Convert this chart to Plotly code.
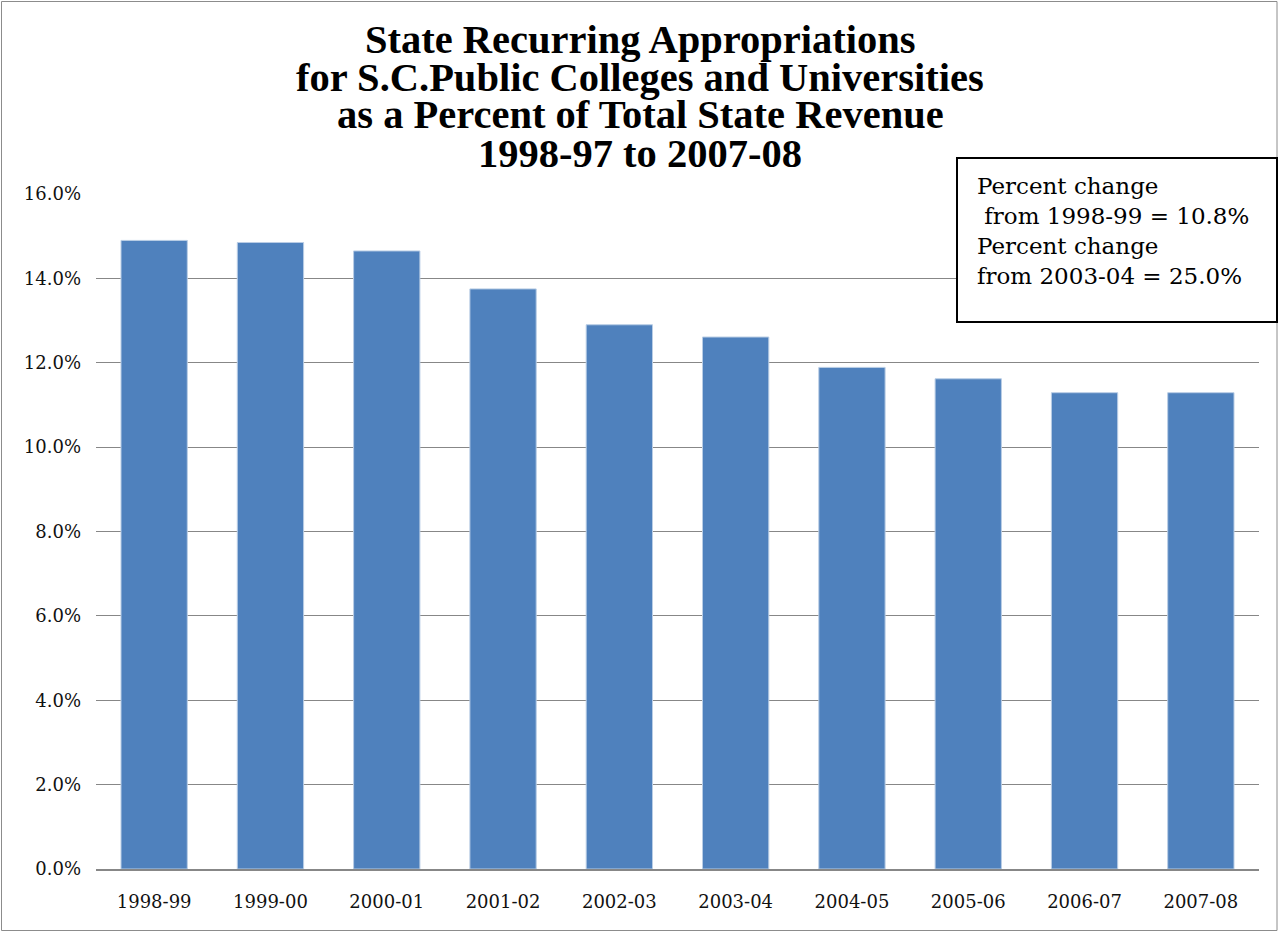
import plotly.graph_objects as go

# data
years = ['1998-99', '1999-00', '2000-01', '2001-02', '2002-03',
         '2003-04', '2004-05', '2005-06', '2006-07', '2007-08']
share = [0.1490, 0.1485, 0.1465, 0.1375, 0.1290,
         0.1261, 0.1189, 0.1162, 0.1129, 0.1129]
title_lines = ['State Recurring Appropriations',
               'for S.C.Public Colleges and Universities',
               'as a Percent of Total State Revenue',
               '1998-97 to 2007-08']
note_text = ('Percent change<br>\u00a0from 1998-99 = 10.8%<br>'
             'Percent change<br>from 2003-04 = 25.0%')

W, H = 1278, 932
L, R, T, B = 96, 19, 194, 63
pw, ph = W - L - R, H - T - B


def px_x(x):
    return (x - L) / pw


def px_y(y):
    return (H - B - y) / ph


fig = go.Figure()
fig.add_trace(go.Bar(x=years, y=share,
                     marker={'color': '#4f81bd', 'line': {'color': '#b9cde5', 'width': 1}},
                     showlegend=False))

fig.update_layout(width=W, height=H,
                  margin={'l': L, 'r': R, 't': T, 'b': B},
                  plot_bgcolor='white', paper_bgcolor='white',
                  bargap=0.43,
                  font={'family': 'DejaVu Serif', 'size': 18, 'color': '#111111'})

fig.update_yaxes(range=[0, 0.16], dtick=0.02, tickformat='.1%',
                 gridcolor='#878787', gridwidth=1, zeroline=False,
                 showline=False, ticks='', ticklabelstandoff=14)
fig.update_xaxes(type='category', showline=True, linecolor='#878787', linewidth=2,
                 ticks='', ticklabelstandoff=15, showgrid=False)

# title, one annotation per line to keep the tight line spacing
centers = [40, 78, 115, 153]
for line, yc in zip(title_lines, centers):
    fig.add_annotation(text='<b>' + line + '</b>', xref='paper', yref='paper',
                       x=px_x(640), y=px_y(yc), xanchor='center', yanchor='middle',
                       showarrow=False,
                       font={'family': 'Liberation Serif', 'size': 40.5, 'color': 'black'})

# text box with percent change
fig.add_shape(type='rect', xref='paper', yref='paper',
              x0=px_x(957), x1=px_x(1277), y0=px_y(322), y1=px_y(158),
              line={'color': 'black', 'width': 2}, fillcolor='white', layer='above')
fig.add_annotation(text=note_text, xref='paper', yref='paper',
                   x=px_x(975), y=px_y(171), xanchor='left', yanchor='top',
                   align='left', showarrow=False,
                   font={'family': 'DejaVu Serif', 'size': 23, 'color': 'black'})

# outer chart border
fig.add_shape(type='rect', xref='paper', yref='paper',
              x0=px_x(1.5), x1=px_x(1277), y0=px_y(930.5), y1=px_y(1.5),
              line={'color': '#8c8c8c', 'width': 1}, layer='below')

fig.write_html('out.html', config={'displayModeBar': False},
               post_script='document.body.style.margin = "0px";')
